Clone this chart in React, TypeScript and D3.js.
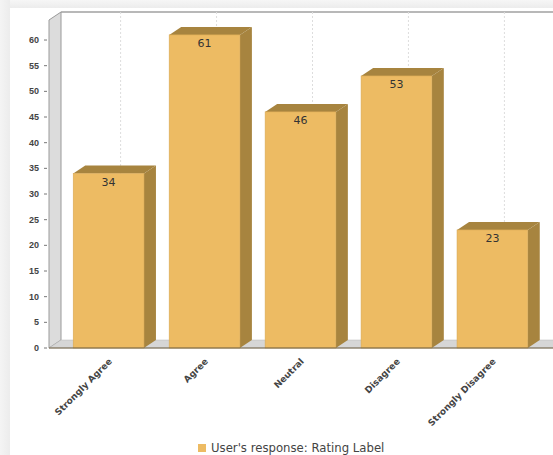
import React from "react";
import * as d3 from "d3";

const categories = ["Strongly Agree", "Agree", "Neutral", "Disagree", "Strongly Disagree"];
const values = [34, 61, 46, 53, 23];
const yTicks = [0, 5, 10, 15, 20, 25, 30, 35, 40, 45, 50, 55, 60];
const legendLabel = "User's response: Rating Label";

const W = 553;
const H = 455;
const DX = 12;
const DY = 8;
const FRONT_LEFT = 49;
const FRONT_BOTTOM = 348;
const FRONT_TOP = 20;
const RIGHT = 570;

export default function App() {
  const x = d3
    .scaleBand<string>()
    .domain(categories)
    .range([48, 553])
    .paddingInner(0.263)
    .paddingOuter(0.263);
  const y = d3.scaleLinear().domain([0, 63.9]).range([FRONT_BOTTOM, FRONT_TOP]);
  const bw = x.bandwidth();
  const base = y(0);

  return (
    <svg
      width={W}
      height={H}
      style={{ position: "absolute", left: 0, top: 0 }}
      xmlns="http://www.w3.org/2000/svg"
    >
      <defs>
        <linearGradient id="topShade" x1="0" y1="0" x2="0" y2="1">
          <stop offset="0" stopColor="#f6f6f6" />
          <stop offset="1" stopColor="#ececec" />
        </linearGradient>
        <linearGradient id="leftShade" x1="0" y1="0" x2="1" y2="0">
          <stop offset="0" stopColor="#f4f4f4" />
          <stop offset="1" stopColor="#ececec" />
        </linearGradient>
      </defs>
      <rect x={0} y={0} width={W} height={H} fill="#f2f2f2" />
      <rect x={0} y={0} width={W} height={8} fill="url(#topShade)" />
      <rect x={0} y={0} width={10} height={H} fill="url(#leftShade)" />
      <rect x={10} y={8} width={W - 10} height={H - 8} fill="#ffffff" />

      {/* back wall outline */}
      <line x1={FRONT_LEFT + DX} x2={RIGHT} y1={FRONT_TOP - DY} y2={FRONT_TOP - DY} stroke="#a0a0a0" strokeWidth={1.5} />

      {/* gridlines on back wall */}
      {categories.map((c) => {
        const cx = (x(c) as number) + bw / 2 + DX;
        return (
          <line
            key={"g" + c}
            x1={cx}
            x2={cx}
            y1={FRONT_TOP - DY}
            y2={base - DY}
            stroke="#dddddd"
            strokeWidth={1}
            strokeDasharray="2,2"
          />
        );
      })}

      {/* left wall */}
      <polygon
        points={`${FRONT_LEFT},${FRONT_TOP} ${FRONT_LEFT + DX},${FRONT_TOP - DY} ${FRONT_LEFT + DX},${base - DY} ${FRONT_LEFT},${base}`}
        fill="#dcdcdc"
        stroke="#9a9a9a"
        strokeWidth={1}
      />
      {/* floor */}
      <polygon
        points={`${FRONT_LEFT},${base} ${FRONT_LEFT + DX},${base - DY} ${RIGHT},${base - DY} ${RIGHT},${base}`}
        fill="#d6d6d6"
        stroke="#b5b5b5"
        strokeWidth={0.5}
      />

      {/* bars */}
      {categories.map((c, i) => {
        const x0 = x(c) as number;
        const x1 = x0 + bw;
        const yv = y(values[i]);
        return (
          <g key={"b" + c}>
            <polygon
              points={`${x0},${yv} ${x0 + DX},${yv - DY} ${x1 + DX},${yv - DY} ${x1},${yv}`}
              fill="#a7843f"
            />
            <polygon
              points={`${x1},${yv} ${x1 + DX},${yv - DY} ${x1 + DX},${base - DY} ${x1},${base}`}
              fill="#a7843f"
            />
            <rect x={x0} y={yv} width={bw} height={base - yv} fill="#edbb63" stroke="#d9a955" strokeWidth={0.6} />
            <text
              x={x0 + bw / 2}
              y={yv + 12.5}
              textAnchor="middle"
              fontFamily="DejaVu Sans"
              fontSize={11}
              fill="#333333"
            >
              {values[i]}
            </text>
          </g>
        );
      })}

      {/* x axis line */}
      <line x1={FRONT_LEFT} x2={RIGHT} y1={base} y2={base} stroke="#6e5f40" strokeWidth={1} />

      {/* y ticks */}
      {yTicks.map((t) => (
        <g key={"t" + t}>
          <line x1={44} x2={47} y1={y(t)} y2={y(t)} stroke="#777777" strokeWidth={1} />
          <text
            x={39}
            y={y(t)}
            dy="0.35em"
            textAnchor="end"
            fontFamily="Liberation Sans"
            fontWeight="bold"
            fontSize={9}
            fill="#444444"
          >
            {t}
          </text>
        </g>
      ))}

      {/* category labels */}
      {categories.map((c) => {
        const cx = (x(c) as number) + bw / 2;
        return (
          <text
            key={"c" + c}
            transform={`translate(${cx + 4},${362}) rotate(-45)`}
            textAnchor="end"
            fontFamily="DejaVu Sans"
            fontWeight="bold"
            fontSize={9}
            fill="#444444"
          >
            {c}
          </text>
        );
      })}

      {/* legend */}
      <rect x={198} y={444} width={8} height={8} fill="#edbb63" />
      <text x={211} y={452} fontFamily="DejaVu Sans" fontSize={11.7} fill="#444444">
        {legendLabel}
      </text>
    </svg>
  );
}
